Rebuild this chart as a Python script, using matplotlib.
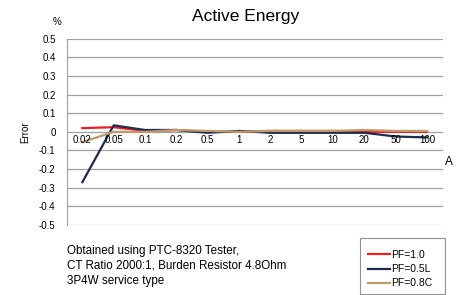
import numpy as np
import matplotlib.pyplot as plt
from matplotlib.patches import Rectangle

plt.rcParams['font.family'] = ['Liberation Sans', 'DejaVu Sans']

currents = ['0.02', '0.05', '0.1', '0.2', '0.5', '1', '2', '5', '10', '20', '50', '100']
pf_10 = [0.02, 0.025, 0.005, 0.01, 0.0, 0.0, 0.005, 0.005, 0.005, 0.0, 0.0, 0.0]
pf_05l = [-0.27, 0.035, 0.01, 0.01, -0.005, 0.005, -0.005, -0.005, -0.005, -0.005, -0.025, -0.03]
pf_08c = [-0.055, 0.0, 0.0, 0.01, 0.005, 0.0, 0.005, 0.005, 0.005, 0.01, 0.005, 0.005]
yticks = [0.5, 0.4, 0.3, 0.2, 0.1, 0, -0.1, -0.2, -0.3, -0.4, -0.5]

W, H = 457, 295
fig = plt.figure(figsize=(W / 100, H / 100), dpi=100)
ax = fig.add_axes([66.7 / W, 1 - 225 / H, 376 / W, 186.3 / H])

x = np.arange(len(currents))
ax.plot(x, pf_10, color='#ee1c25', lw=1.6, label='PF=1.0')
ax.plot(x, pf_05l, color='#1c2b4e', lw=1.6, label='PF=0.5L')
ax.plot(x, pf_08c, color='#c09a6b', lw=1.6, label='PF=0.8C')

ax.set_xlim(-0.5, len(currents) - 0.5)
ax.set_ylim(-0.5, 0.5)
ax.set_yticks(yticks)
ax.set_yticklabels([str(v) for v in yticks], fontsize=7)
ax.tick_params(axis='y', length=0, pad=8)
ax.set_xticks([])
ax.grid(axis='y', color='#a0a0a0', lw=0.9)
ax.set_axisbelow(True)
for s in ['top', 'right', 'bottom']:
    ax.spines[s].set_visible(False)
ax.spines['left'].set_color('#a0a0a0')

for i, c in enumerate(currents):
    ax.text(i, -0.015, c, ha='center', va='top', fontsize=7)

fig.text(246 / W, 1 - 17 / H, 'Active Energy', ha='center', va='center', fontsize=12.5)
ax.set_ylabel('Error', fontsize=7, labelpad=6)
fig.text(57 / W, 1 - 22 / H, '%', ha='center', va='center', fontsize=7)
fig.text(449 / W, 1 - 162 / H, 'A', ha='center', va='center', fontsize=8.5)

notes = ['Obtained using PTC-8320 Tester,',
         'CT Ratio 2000:1, Burden Resistor 4.8Ohm',
         '3P4W service type']
for yy, t in zip([251, 266, 281], notes):
    fig.text(67 / W, 1 - yy / H, t, fontsize=8.4, va='center')

fig.patches.append(Rectangle((360 / W, 0.002), 85 / W, (H - 238) / H - 0.002,
                             transform=fig.transFigure, fill=False,
                             edgecolor='#909090', lw=0.8))
fig.legend(loc='upper left', bbox_to_anchor=(368 / W, 1 - 250 / H), fontsize=7.5,
           frameon=False, handlelength=2.1, handletextpad=0.1, labelspacing=0.4,
           borderpad=0, borderaxespad=0)

fig.savefig('out.png', dpi=100)
